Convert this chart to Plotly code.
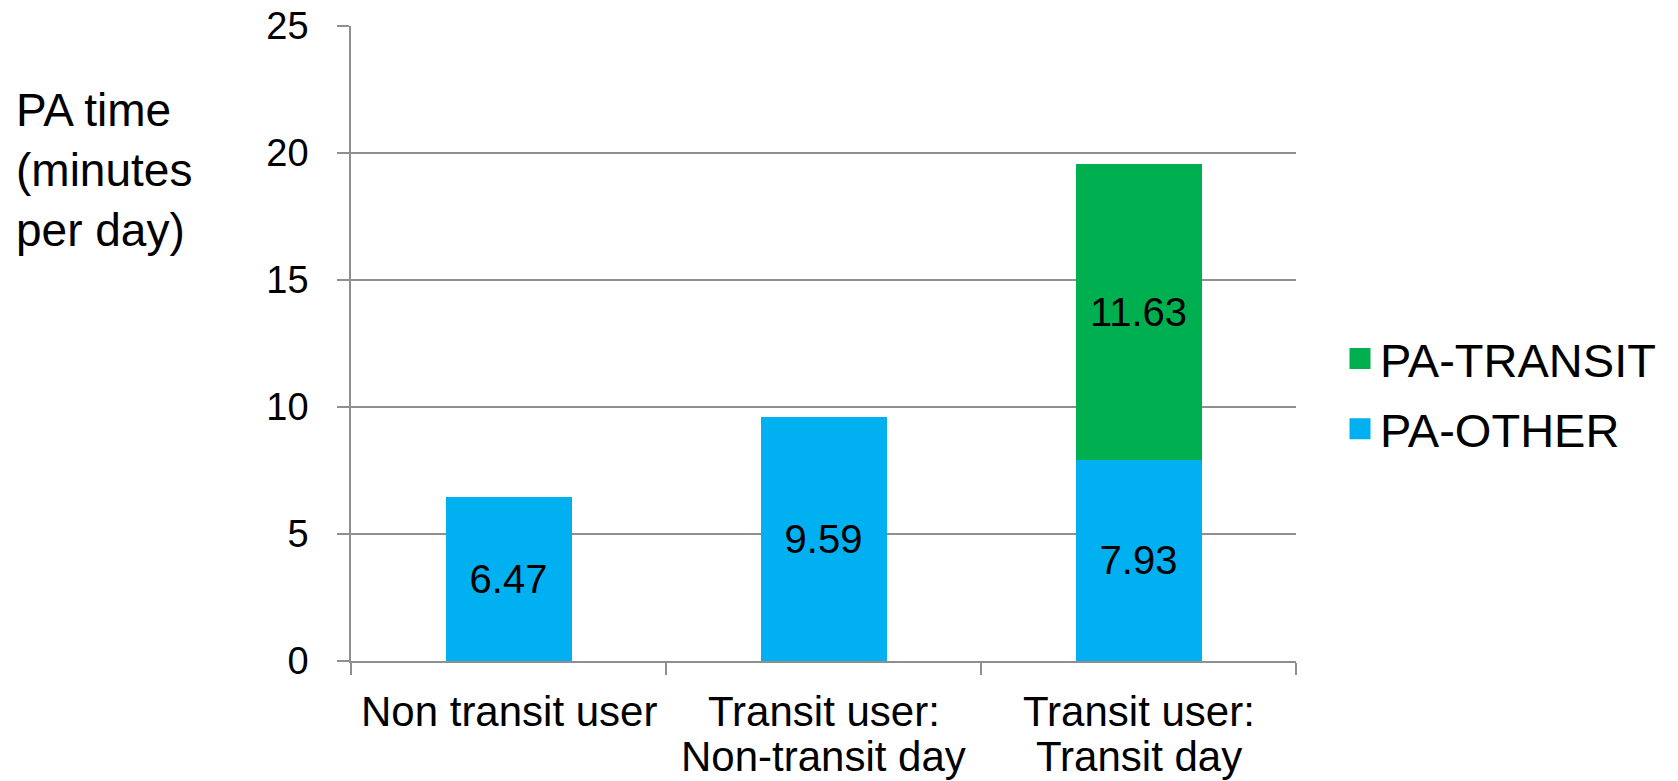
import plotly.graph_objects as go

categories = ["Non transit user", "Transit user:<br>Non-transit day", "Transit user:<br>Transit day"]
pa_other = [6.47, 9.59, 7.93]
pa_transit = [None, None, 11.63]
series_names = ["PA-OTHER", "PA-TRANSIT"]
series_colors = ["#00B0F0", "#00B050"]
y_ticks = [0, 5, 10, 15, 20, 25]
y_title_lines = ["PA time", "(minutes", "per day)"]

FONT = "Arial, 'Liberation Sans', sans-serif"
GRID = "#8f8f8f"
W, H = 1678, 781
L, R, T, B = 351, 382, 26, 120

fig = go.Figure()
for name, vals, col in zip(series_names, [pa_other, pa_transit], series_colors):
    fig.add_trace(go.Bar(
        x=categories, y=vals, name=name, showlegend=False, legendgroup=name,
        marker=dict(color=col, line=dict(width=0)),
        text=[("" if v is None else f"{v:.2f}") for v in vals], textposition="inside",
        insidetextanchor="middle", textangle=0,
        textfont=dict(family=FONT, size=40, color="black"),
    ))

# legend entries (square swatches), top entry = PA-TRANSIT
for name, col in zip(reversed(series_names), reversed(series_colors)):
    fig.add_trace(go.Scatter(
        x=[None], y=[None], mode="markers", name=name, legendgroup=name,
        marker=dict(symbol="square", size=16, color=col, line=dict(width=5, color=col)),
        hoverinfo="skip",
    ))

annotations = []
for c in categories:
    for i, line in enumerate(c.split("<br>")):
        annotations.append(dict(
            x=c, xref="x", y=0, yref="paper", yshift=-50 - 45 * i,
            text=line, showarrow=False, xanchor="center", yanchor="middle",
            font=dict(family=FONT, size=42, color="black"),
        ))
annotations.append(dict(
    x=(14 - L) / (W - L - R), xref="paper", y=(H - B - 82) / (H - B - T), yref="paper",
    text="<br>".join(y_title_lines), showarrow=False, xanchor="left", yanchor="top",
    align="left", font=dict(family=FONT, size=46, color="black"),
))

fig.update_layout(
    width=W, height=H,
    margin=dict(l=L, r=R, t=T, b=B, autoexpand=False),
    paper_bgcolor="white", plot_bgcolor="white",
    barmode="stack", bargap=0.6,
    font=dict(family=FONT, color="black"),
    showlegend=True,
    legend=dict(
        x=(1340 - L) / (W - L - R), xanchor="left",
        y=(H - B - 394) / (H - B - T), yanchor="middle",
        traceorder="grouped", tracegroupgap=6, itemsizing="trace",
        font=dict(family=FONT, size=47, color="black"),
        bgcolor="rgba(0,0,0,0)", borderwidth=0,
    ),
    annotations=annotations,
    xaxis=dict(
        showticklabels=False, showgrid=False, zeroline=False,
        showline=True, linecolor=GRID, linewidth=1.5,
        ticks="outside", ticklen=12, tickcolor=GRID, tickwidth=1.5,
        tickson="boundaries",
    ),
    yaxis=dict(
        range=[0, 25], tickvals=y_ticks, showgrid=True, gridcolor=GRID, gridwidth=1.5,
        zeroline=False, showline=True, linecolor=GRID, linewidth=1.5,
        ticks="outside", ticklen=12, tickcolor=GRID, tickwidth=1.5,
        ticklabelstandoff=21,
        tickfont=dict(family=FONT, size=38, color="black"),
    ),
)

fig.write_html("out.html")
